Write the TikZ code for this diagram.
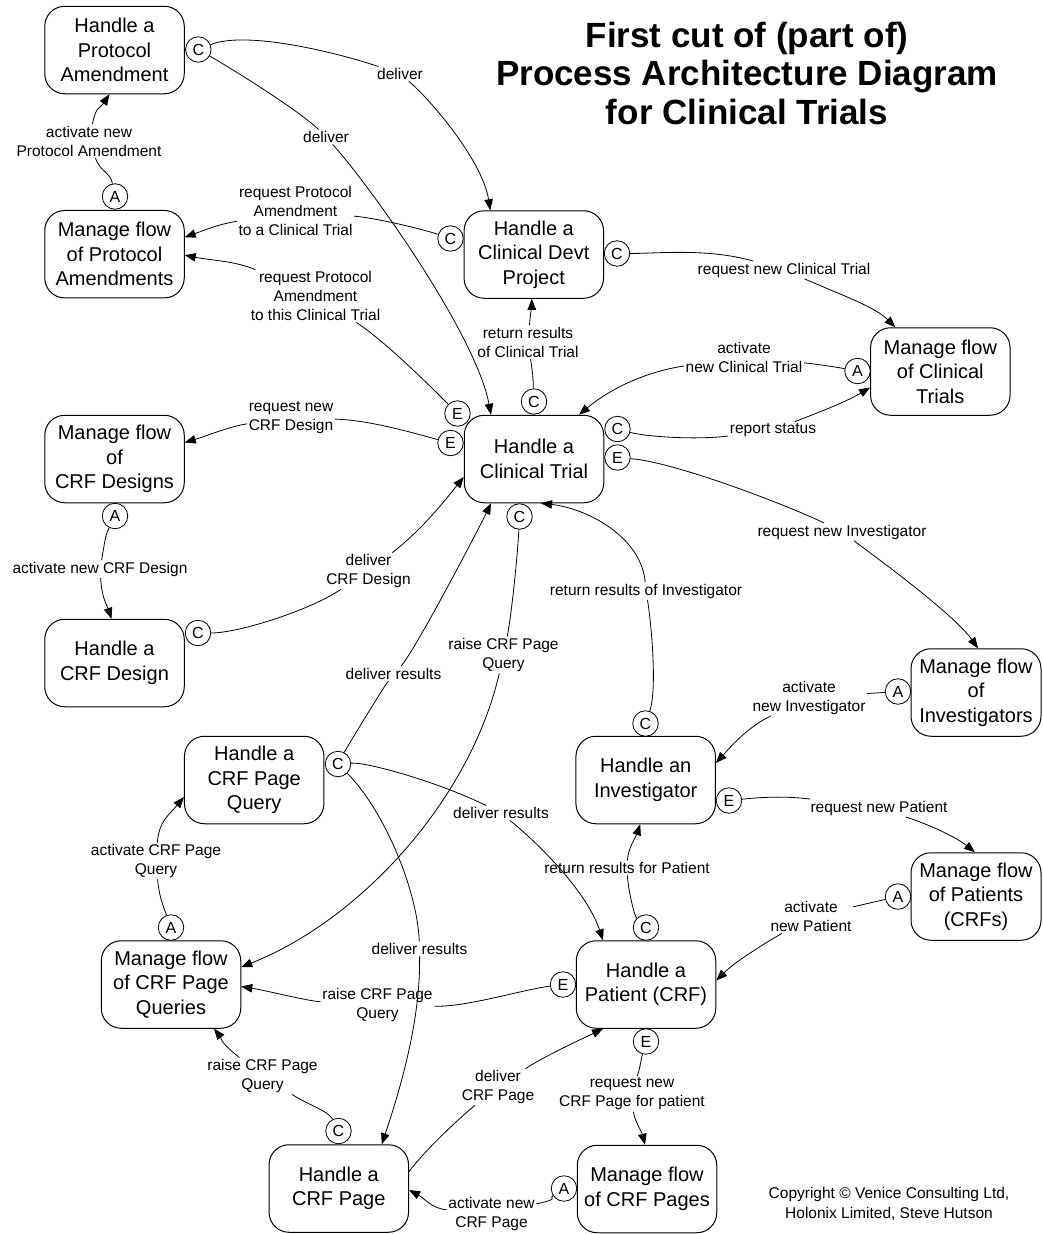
\documentclass[tikz,border=0pt]{standalone}
\usepackage{fontspec}
\setmainfont{Liberation Sans}
\usetikzlibrary{arrows.meta,calc}
\begin{document}
\begin{tikzpicture}[x=1pt,y=-1pt,
  proc/.style={draw,line width=1pt,rounded corners=20pt,minimum width=139.5pt,minimum height=87.5pt,inner sep=0pt,align=center,font=\fontsize{20}{24.5}\selectfont},
  narrowproc/.style={proc,minimum width=130pt},
  port/.style={draw,circle,line width=0.8pt,fill=white,minimum size=25.5pt,inner sep=0pt,font=\fontsize{16}{16}\selectfont},
  lbl/.style={inner sep=1.5pt,align=center,font=\fontsize{15.5}{19}\selectfont},
  conn/.style={line width=0.8pt,-{Triangle[length=11pt,width=8.5pt]}},
  ttl/.style={anchor=base,font=\fontsize{35}{38}\selectfont\bfseries},
  note/.style={anchor=base,font=\fontsize{15.5}{19}\selectfont},
]
\fill[white] (0,0) rectangle (1042,1234);
\useasboundingbox (0,0) rectangle (1042,1234);

% title and credits
\node[ttl] (t1) at (747,47) {First cut of (part of)};
\node[ttl] (t2) at (747,85.5) {Process Architecture Diagram};
\node[ttl] (t3) at (747,124) {for Clinical Trials};
\node[note] (cr1) at (889,1198) {Copyright © Venice Consulting Ltd,};
\node[note] (cr2) at (889,1218) {Holonix Limited, Steve Hutson};

% processes
\node[proc] (pa) at (114.5,50) {Handle a\\Protocol\\Amendment};
\node[proc] (mpa) at (114.5,254.2) {Manage flow\\of Protocol\\Amendments};
\node[proc] (cdp) at (533.8,254.5) {Handle a\\Clinical Devt\\Project};
\node[proc] (mct) at (940.3,371.5) {Manage flow\\of Clinical\\Trials};
\node[proc] (ct) at (534,459) {Handle a\\Clinical Trial};
\node[proc] (mcd) at (114.5,459) {Manage flow\\of\\CRF Designs};
\node[proc] (crfd) at (114.5,663) {Handle a\\CRF Design};
\node[proc] (cpq) at (254.2,780) {Handle a\\CRF Page\\Query};
\node[proc] (mcpq) at (171,984.5) {Manage flow\\of CRF Page\\Queries};
\node[proc] (cp) at (338.8,1188.5) {Handle a\\CRF Page};
\node[proc] (hi) at (645.7,780) {Handle an\\Investigator};
\node[proc] (hp) at (646,984.5) {Handle a\\Patient (CRF)};
\node[proc] (mcp) at (647,1189) {Manage flow\\of CRF Pages};
\node[narrowproc] (mi) at (976,692.5) {Manage flow\\of\\Investigators};
\node[narrowproc] (mp) at (976,896.5) {Manage flow\\of Patients\\(CRFs)};

% ports
\node[port] (pa_c) at (198.3,49.5) {C};
\node[port] (mpa_a) at (115,196.5) {A};
\node[port] (cdp_cl) at (450.5,238.5) {C};
\node[port] (cdp_cr) at (617,253.5) {C};
\node[port] (ct_e1) at (457.5,413.5) {E};
\node[port] (ct_e2) at (450.5,443) {E};
\node[port] (ct_ct) at (534,401.5) {C};
\node[port] (ct_cr) at (617.5,429) {C};
\node[port] (ct_er) at (617.5,457.5) {E};
\node[port] (ct_cb) at (519.5,516.5) {C};
\node[port] (mct_a) at (857.5,371) {A};
\node[port] (mcd_a) at (115,516) {A};
\node[port] (crfd_c) at (198,633) {C};
\node[port] (cpq_c) at (338,764) {C};
\node[port] (mcpq_a) at (171,927.5) {A};
\node[port] (cp_c) at (338.5,1131) {C};
\node[port] (hi_c) at (645.5,723.5) {C};
\node[port] (hi_e) at (729,800.5) {E};
\node[port] (mi_a) at (898,691.5) {A};
\node[port] (hp_c) at (646,927.5) {C};
\node[port] (hp_el) at (563,984.5) {E};
\node[port] (hp_eb) at (646,1041.5) {E};
\node[port] (mp_a) at (898,896.5) {A};
\node[port] (mcp_a) at (564,1188.5) {A};

% flow labels
\node[lbl] (l1) at (400,74) {deliver};
\node[lbl] (l2) at (326,137) {deliver};
\node[lbl] (l3) at (89,141) {activate new\\Protocol Amendment};
\node[lbl] (l4) at (295.5,211) {request Protocol\\Amendment\\to a Clinical Trial};
\node[lbl] (l5) at (315.5,296) {request Protocol\\Amendment\\to this Clinical Trial};
\node[lbl] (l6) at (784,270) {request new Clinical Trial};
\node[lbl] (l7) at (528,342) {return results\\of Clinical Trial};
\node[lbl] (l8) at (744,357) {activate\\new Clinical Trial};
\node[lbl] (l9) at (773,430) {report status};
\node[lbl] (l10) at (291,418) {request new\\CRF Design};
\node[lbl] (l11) at (100,569) {activate new CRF Design};
\node[lbl] (l12) at (368.5,571) {deliver\\CRF Design};
\node[lbl] (l13) at (842,532) {request new Investigator};
\node[lbl] (l14) at (809,697.5) {activate\\new Investigator};
\node[lbl] (l15) at (646,591) {return results of Investigator};
\node[lbl] (l16) at (503.5,655) {raise CRF Page\\Query};
\node[lbl] (l17) at (393.5,673.5) {deliver results};
\node[lbl] (l18) at (501,813) {deliver results};
\node[lbl] (l19) at (419.5,949) {deliver results};
\node[lbl] (l20) at (156,861) {activate CRF Page\\Query};
\node[lbl] (l21) at (879,808) {request new Patient};
\node[lbl] (l22) at (627,868) {return results for Patient};
\node[lbl] (l23) at (811,916.5) {activate\\new Patient};
\node[lbl] (l24) at (377.5,1005) {raise CRF Page\\Query};
\node[lbl] (l25) at (262.5,1076) {raise CRF Page\\Query};
\node[lbl] (l26) at (498,1087) {deliver\\CRF Page};
\node[lbl] (l27) at (632,1094) {request new\\CRF Page for patient};
\node[lbl] (l28) at (491.5,1213.5) {activate new\\CRF Page};

% flows: each runs port -> label -> target process
\draw[conn] (pa_c) .. controls +(50,-20) and +(-55,-19) .. (l1)
  .. controls +(30,25) and +(-8,-50) .. ($(cdp.north)+(-43.5,0)$);
\draw[conn] (pa_c) .. controls +(35,20) and +(-25,-25) .. (l2)
  .. controls +(45,50) and +(-15,-80) .. ($(ct.north)+(-43,0)$);
\draw[conn] (mpa_a) .. controls +(-5,-25) and +(12,32) .. (l3)
  .. controls +(7,-35) and +(-10,15) .. ($(pa.south)+(-5,0)$);
\draw[conn] (cdp_cl) .. controls +(-30,-10) and +(80,7) .. (l4)
  .. controls +(-80,14) and +(20,-7) .. ($(mpa.east)+(0,-17)$);
\draw[conn] (ct_e1) .. controls +(-20,-20) and +(71,46) .. (l5)
  .. controls +(-80,-35) and +(25,5) .. ($(mpa.east)+(0,1)$);
\draw[conn] (cdp_cr) .. controls +(40,0) and +(-76,-22) .. (l6)
  .. controls +(60,26) and +(-20,-20) .. ($(mct.north)+(-45,0)$);
\draw[conn] (ct_ct) .. controls +(-1,-20) and +(6,40) .. (l7)
  .. controls +(3,-35) and +(0,10) .. ($(cdp.south)+(-2,0)$);
\draw[conn] (mct_a) .. controls +(-22,-4) and +(72,7) .. (l8)
  .. controls +(-100,15) and +(30,-25) .. ($(ct.north)+(45,0)$);
\draw[conn] (ct_cr) .. controls +(30,8) and +(-75,10) .. (l9)
  .. controls +(60,-23) and +(-20,12) .. ($(mct.west)+(0,16)$);
\draw[conn] (ct_e2) .. controls +(-30,-8) and +(80,2) .. (l10)
  .. controls +(-60,8) and +(20,-6) .. ($(mcd.east)+(0,-16.5)$);
\draw[conn] (mcd_a) .. controls +(-10,20) and +(5,-28) .. (l11)
  .. controls +(2,30) and +(-5,-15) .. ($(crfd.north)+(-3,0)$);
\draw[conn] (crfd_c) .. controls +(40,0) and +(-60,40) .. (l12)
  .. controls +(53,-41) and +(-20,25) .. ($(ct.west)+(0,18)$);
\draw[conn] (ct_er) .. controls +(60,5) and +(-48,-24) .. (l13)
  .. controls +(31,23) and +(-25,-35) .. ($(mi.north)+(2,0)$);
\draw[conn] (mi_a) -- (l14)
  .. controls +(-60,29) and +(18,-20) .. ($(hi.east)+(0,-17)$);
\draw[conn] (hi_c) .. controls +(12,-35) and +(5,30) .. (l15)
  .. controls +(-5,-55) and +(45,5) .. ($(ct.south)+(7,0)$);
\draw[conn] (ct_cb) .. controls +(-2,40) and +(8,-40) .. (l16)
  .. controls +(-33.5,145) and +(119,-47) .. ($(mcpq.east)+(0,-17.5)$);
\draw[conn] (cpq_c) .. controls +(8,-15) and +(-14,20) .. (l17)
  .. controls +(20,-20) and +(-12,25) .. ($(ct.south)+(-43,0)$);
\draw[conn] (cpq_c) .. controls +(30,-2) and +(-60,-30) .. (l18)
  .. controls +(45,37) and +(-15,-45) .. ($(hp.north)+(-43,0)$);
\draw[conn] (cpq_c) .. controls +(45,45) and +(-2,-60) .. (l19)
  .. controls +(1,70) and +(20,-60) .. ($(cp.north)+(43,0)$);
\draw[conn] (mcpq_a) .. controls +(-8,-22) and +(3,35) .. (l20)
  .. controls +(3,-40) and +(-15,18) .. ($(cpq.west)+(0,17)$);
\draw[conn] (hi_e) .. controls +(20,-2) and +(-100,-13) .. (l21)
  .. controls +(60,20) and +(-15,-12) .. ($(mp.north)+(-1,0)$);
\draw[conn] (hp_c) .. controls +(-12,-12) and +(1,20) .. (l22)
  .. controls +(1,-20) and +(-4,12) .. ($(hi.south)+(-5.5,0)$);
\draw[conn] (mp_a) -- (l23)
  .. controls +(-50,29) and +(18,-18) .. ($(hp.east)+(0,-4)$);
\draw[conn] (hp_el) .. controls +(-40,5) and +(90,2) .. (l24)
  .. controls +(-70,-4) and +(25,4) .. ($(mcpq.east)+(0,2)$);
\draw[conn] (cp_c) .. controls +(-10,-20) and +(48,30) .. (l25)
  .. controls +(-45,-36) and +(8,10) .. ($(mcpq.south)+(43,0)$);
\draw[conn] ($(cp.east)+(0,-17)$) .. controls +(15,-20) and +(-40,32) .. (l26)
  .. controls +(45,-30) and +(-25,12) .. ($(hp.south)+(-43,0)$);
\draw[conn] (hp_eb) .. controls +(-6,22) and +(9,-30) .. (l27)
  .. controls +(2,25) and +(-3,-12) .. ($(mcp.north)+(-2,0)$);
\draw[conn] (mcp_a) .. controls +(-16,10) and +(70,-15) .. (l28)
  .. controls +(-60,-5) and +(15,8) .. ($(cp.east)+(0,1.5)$);
\end{tikzpicture}
\end{document}
